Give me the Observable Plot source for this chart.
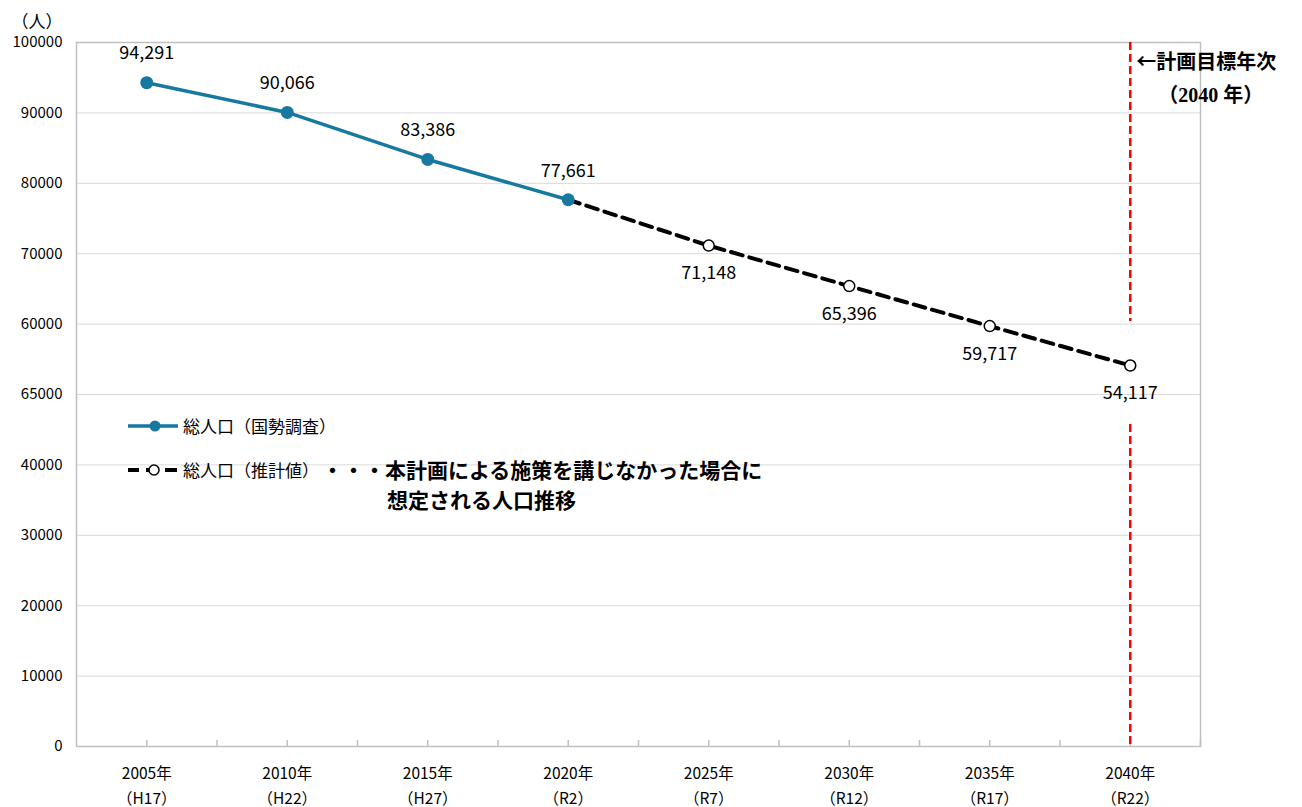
<!DOCTYPE html>
<html><head><meta charset="utf-8">
<script src="https://cdn.jsdelivr.net/npm/d3@7"></script>
<script src="https://cdn.jsdelivr.net/npm/@observablehq/plot@0.6"></script>
<style>
body{margin:0;background:#fff;}
#wrap{position:relative;width:1302px;height:807px;font-family:"Noto Sans CJK JP",sans-serif;color:#000;}
#wrap svg{position:absolute;left:0;top:0;}
.lg{position:absolute;white-space:nowrap;line-height:1;}
</style></head><body><div id="wrap"></div>
<script>
const years = ["2005年","2010年","2015年","2020年","2025年","2030年","2035年","2040年"];
const eras = ["（H17）","（H22）","（H27）","（R2）","（R7）","（R12）","（R17）","（R22）"];
const observed = [94291, 90066, 83386, 77661];
const projected = [77661, 71148, 65396, 59717, 54117];
const projectedStart = 3;
const yTicks = [0,10000,20000,30000,40000,50000,60000,70000,80000,90000,100000];
const yTickLabels = ["0","10000","20000","30000","40000","65000","60000","70000","80000","90000","100000"];
const unitLabel = "（人）";
const targetIndex = 7;
const noteLines = ["←計画目標年次","（2040 年）"];
const legendObserved = "総人口（国勢調査）";
const legendProjected = "総人口（推計値）";
const legendNote = ["・・・本計画による施策を講じなかった場合に","想定される人口推移"];

const blue = "#17799f";
const obsData = observed.map((v,i)=>({i, v}));
const projData = projected.map((v,k)=>({i: k+projectedStart, v}));
const last = projected[projected.length-1];
const tickPos = d3.range(0, 7.51, 0.5);

const chart = Plot.plot({
  width:1302, height:807,
  marginLeft:76, marginRight:102, marginTop:42, marginBottom:61,
  style:{fontFamily:"'Noto Sans CJK JP', sans-serif", color:"#000", background:"transparent", overflow:"visible"},
  x:{type:"linear", domain:[-0.5, 7.5]},
  y:{domain:[0,100000]},
  marks:[
    Plot.ruleY(yTicks.filter(d=>d>0 && d<100000), {y:d=>d, stroke:"#d9d9d9", strokeWidth:1}),
    Plot.frame({stroke:"#c0c0c0", strokeWidth:1.5}),
    Plot.ruleX(tickPos, {x:d=>d, y1:0, y2:0, insetBottom:6, stroke:"#c0c0c0", strokeWidth:1.5}),
    Plot.axisY({ticks:yTicks, tickFormat:d=>yTickLabels[yTicks.indexOf(d)], tickSize:0, tickPadding:14, fontSize:15, label:null}),
    Plot.axisX({ticks:d3.range(8), tickFormat:i=>years[i]+"\n"+eras[i], tickSize:0, tickPadding:15, fontSize:15.5, lineHeight:1.6, label:null}),
    Plot.ruleX([targetIndex], {x:d=>d, y1:100000, y2:last, insetBottom:44, stroke:"#ff0000", strokeWidth:2.5, strokeDasharray:"8,4"}),
    Plot.ruleX([targetIndex], {x:d=>d, y1:last, y2:0, insetTop:59, stroke:"#ff0000", strokeWidth:2.5, strokeDasharray:"8,4"}),
    Plot.line(obsData, {x:"i", y:"v", stroke:blue, strokeWidth:3.5}),
    Plot.line(projData, {x:"i", y:"v", stroke:"#000", strokeWidth:4, strokeDasharray:"12,7"}),
    Plot.dot(obsData, {x:"i", y:"v", r:6.5, fill:blue}),
    Plot.dot(projData.slice(1), {x:"i", y:"v", r:5.5, fill:"#fff", stroke:"#000", strokeWidth:1.5}),
    Plot.text(obsData, {x:"i", y:"v", text:d=>d3.format(",")(d.v), dy:-29, fontSize:18}),
    Plot.text(projData.slice(1), {x:"i", y:"v", text:d=>d3.format(",")(d.v), dy:28, fontSize:18}),
    Plot.text([unitLabel], {frameAnchor:"top-left", dx:-14, dy:-27, textAnchor:"end", fontSize:17}),
    Plot.text([noteLines[0]], {x:()=>targetIndex, y:()=>100000, dx:6, dy:20, textAnchor:"start", fontSize:20, fontWeight:"bold", fontFamily:"'Noto Sans CJK JP', serif"}),
    Plot.text([noteLines[1]], {x:()=>targetIndex, y:()=>100000, dx:28, dy:53, textAnchor:"start", fontSize:20, fontWeight:"bold", fontFamily:"'Liberation Serif', 'Noto Sans CJK JP', serif"})
  ]
});
const wrap = document.getElementById("wrap");
wrap.appendChild(chart);

const lg = document.createElement("div");
lg.innerHTML = `
<svg style="position:absolute;left:126px;top:416px" width="56" height="20">
  <line x1="2" y1="10" x2="52" y2="10" stroke="${blue}" stroke-width="3.5"/>
  <circle cx="29" cy="10" r="5.5" fill="${blue}"/>
</svg>
<div class="lg" style="left:183px;top:417px;font-size:17px">${legendObserved}</div>
<svg style="position:absolute;left:126px;top:460px" width="56" height="20">
  <line x1="2" y1="10" x2="52" y2="10" stroke="#000" stroke-width="4" stroke-dasharray="12,7" stroke-dashoffset="1"/>
  <circle cx="28" cy="10" r="5" fill="#fff" stroke="#000" stroke-width="1.5"/>
</svg>
<div class="lg" style="left:183px;top:461px;font-size:17px">${legendProjected}</div>
<div class="lg" style="left:322px;top:459px;font-size:21px;font-weight:bold">${legendNote[0]}</div>
<div class="lg" style="left:387px;top:489px;font-size:21px;font-weight:bold">${legendNote[1]}</div>
`;
wrap.appendChild(lg);
</script>
</body></html>
